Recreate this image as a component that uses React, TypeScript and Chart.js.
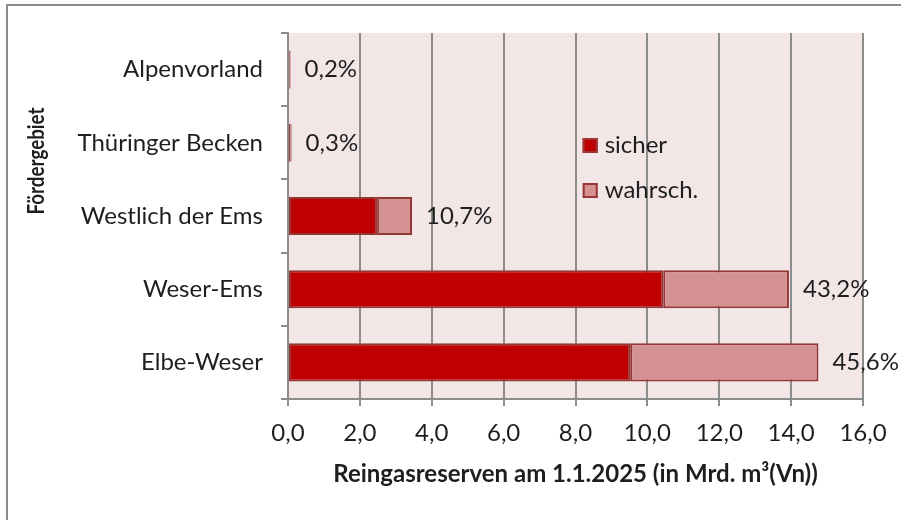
import React, { useEffect, useRef } from "react";
import { Chart, registerables } from "chart.js";

Chart.register(...registerables);

const categories = ["Alpenvorland", "Thüringer Becken", "Westlich der Ems", "Weser-Ems", "Elbe-Weser"];
const sicher = [0.05, 0.07, 2.48, 10.44, 9.52];
const wahrsch = [0.02, 0.03, 0.97, 3.5, 5.24];
const shares = ["0,2%", "0,3%", "10,7%", "43,2%", "45,6%"];
const seriesNames = ["sicher", "wahrsch."];
const xTitle = "Reingasreserven am 1.1.2025 (in Mrd. m³(Vn))";
const yTitle = "Fördergebiet";

const FONT = "Lato, 'Noto Sans', sans-serif";
const FS = 24;
const GRID = "#8c8c8c";
const TEXT = "#1e1e1e";
const RED = "#c00000";
const PINK = "#d49292";
const EDGE = "#953735";

export default function App() {
  const ref = useRef<HTMLCanvasElement>(null);
  useEffect(() => {
    const canvas = ref.current!;
    const decor = {
      id: "decor",
      beforeDraw(chart: any) {
        const { ctx, chartArea: a } = chart;
        ctx.save();
        ctx.fillStyle = "#ffffff";
        ctx.fillRect(0, 0, chart.width, chart.height);
        ctx.strokeStyle = GRID;
        ctx.lineWidth = 2;
        ctx.strokeRect(7, 5, 2000, 2000);
        ctx.fillStyle = "#f2e6e6";
        ctx.fillRect(a.left, a.top, a.right - a.left, a.bottom - a.top);
        ctx.restore();
      },
      afterDatasetsDraw(chart: any) {
        const { ctx } = chart;
        const xs = chart.scales.x;
        const meta = chart.getDatasetMeta(1);
        ctx.save();
        ctx.font = `${FS}px ${FONT}`;
        ctx.fillStyle = TEXT;
        ctx.textBaseline = "middle";
        ctx.textAlign = "left";
        categories.forEach((_, i) => {
          const total = sicher[i] + wahrsch[i];
          const x = xs.getPixelForValue(total) + 14;
          const y = meta.data[i].y;
          ctx.fillText(shares[i], x, y);
        });
        ctx.restore();
      },
      afterDraw(chart: any) {
        const { ctx, chartArea: a } = chart;
        const xs = chart.scales.x;
        const lx = xs.getPixelForValue(8.2);
        const colors = [RED, PINK];
        ctx.save();
        ctx.font = `${FS}px ${FONT}`;
        ctx.textBaseline = "middle";
        ctx.textAlign = "left";
        seriesNames.forEach((n, i) => {
          const cy = a.top + 112 + i * 45;
          ctx.fillStyle = colors[i];
          ctx.fillRect(lx, cy - 7, 15, 15);
          ctx.strokeStyle = EDGE;
          ctx.lineWidth = 2;
          ctx.strokeRect(lx + 1, cy - 6, 13, 13);
          ctx.fillStyle = TEXT;
          ctx.fillText(n, lx + 22, cy);
        });
        // y-axis title (condensed, like the narrow bold face of the original)
        ctx.save();
        ctx.font = `bold 23px ${FONT}`;
        const w = ctx.measureText(yTitle).width;
        ctx.translate(37, a.top + 128);
        ctx.rotate(-Math.PI / 2);
        ctx.scale(107 / w, 1);
        ctx.textAlign = "center";
        ctx.fillStyle = TEXT;
        ctx.fillText(yTitle, 0, 0);
        ctx.restore();
        ctx.restore();
      },
    };
    const chart = new Chart(canvas, {
      type: "bar",
      data: {
        labels: categories,
        datasets: [
          {
            label: seriesNames[0],
            data: sicher,
            backgroundColor: RED,
            borderColor: EDGE,
            borderWidth: 2,
            borderSkipped: false,
          },
          {
            label: seriesNames[1],
            data: wahrsch,
            backgroundColor: PINK,
            borderColor: EDGE,
            borderWidth: 2,
            borderSkipped: false,
          },
        ],
      },
      options: {
        indexAxis: "y",
        responsive: false,
        animation: false,
        devicePixelRatio: 1,
        datasets: { bar: { barPercentage: 0.52, categoryPercentage: 1 } },
        layout: { padding: { top: 33, right: 38, left: 0, bottom: 0 } },
        plugins: { legend: { display: false }, tooltip: { enabled: false } },
        scales: {
          x: {
            stacked: true,
            min: 0,
            max: 16,
            afterFit(s: any) {
              s.height = 121;
            },
            ticks: {
              stepSize: 2,
              color: TEXT,
              font: { family: FONT, size: FS },
              padding: 13,
              callback: (v: any) => Number(v).toFixed(1).replace(".", ","),
            },
            grid: { color: GRID, lineWidth: 2, tickLength: 7 },
            border: { color: GRID, width: 2 },
            title: {
              display: true,
              text: xTitle,
              color: TEXT,
              font: { family: FONT, size: FS, weight: "bold" },
              padding: { top: 0, bottom: 31 },
            },
          },
          y: {
            stacked: true,
            afterFit(s: any) {
              s.width = 288;
            },
            ticks: {
              color: TEXT,
              font: { family: FONT, size: FS },
              padding: 18,
            },
            grid: { color: GRID, lineWidth: 2, tickLength: 7, drawOnChartArea: false, offset: true },
            border: { color: GRID, width: 2 },
            title: { display: false, text: yTitle },
          },
        },
      },
      plugins: [decor],
    } as any);
    return () => chart.destroy();
  }, []);
  return (
    <div style={{ position: "absolute", left: 0, top: 0, width: 901, height: 520 }}>
      <canvas ref={ref} width={901} height={520} />
    </div>
  );
}
